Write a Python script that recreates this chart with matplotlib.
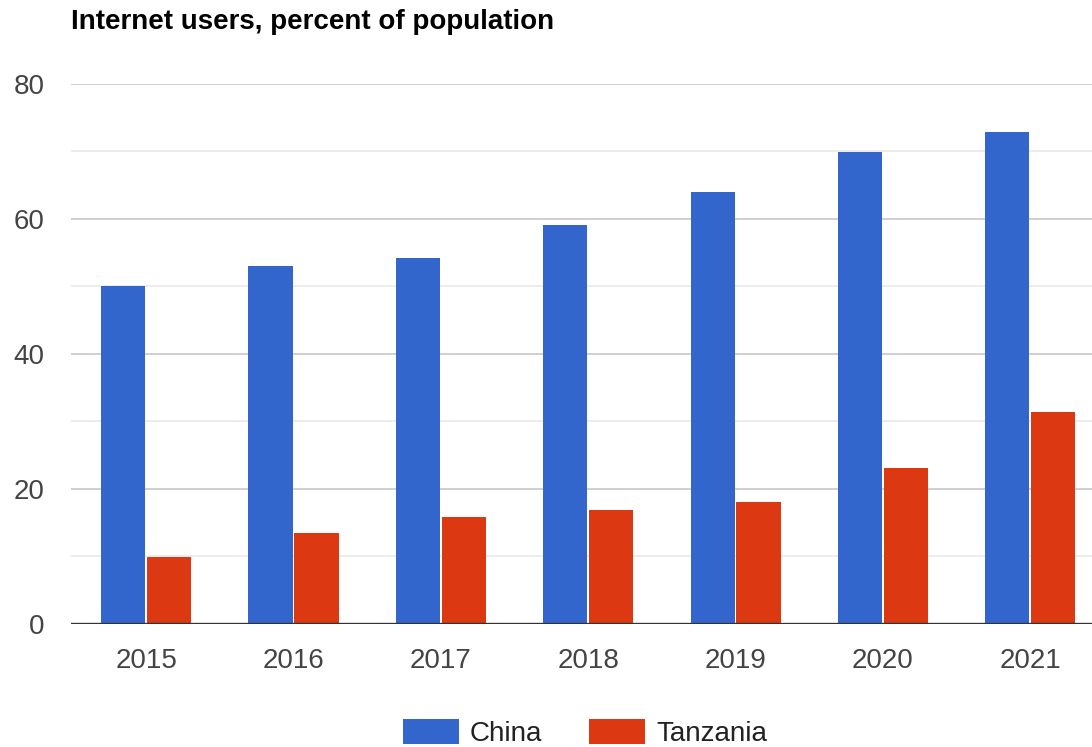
import numpy as np
import matplotlib
matplotlib.use("Agg")
import matplotlib.pyplot as plt
from matplotlib.patches import Patch

# Internet users as share of population
years = ["2015", "2016", "2017", "2018", "2019", "2020", "2021"]
china = [50.1, 53.0, 54.2, 59.1, 63.9, 69.8, 72.8]
tanzania = [9.9, 13.4, 15.8, 16.9, 18.1, 23.1, 31.4]

BLUE = "#3366cc"
RED = "#dc3912"

plt.rcParams["font.family"] = ["Liberation Sans", "DejaVu Sans"]

W, H = 1092, 747
fig = plt.figure(figsize=(W / 100, H / 100), dpi=100)
fig.patch.set_facecolor("white")

# axes run slightly past the right edge of the figure
ax = fig.add_axes([71 / W, 123 / H, (1104 - 71) / W, 540.5 / H])

x = np.arange(len(years))
bw = 0.30
ax.bar(x - 0.156, china, bw, color=BLUE, zorder=3)
ax.bar(x + 0.156, tanzania, bw, color=RED, zorder=3)

ax.set_xlim(-0.51, 6.5)
ax.set_ylim(0, 80)
ax.set_yticks([0, 20, 40, 60, 80])
ax.set_yticks([10, 30, 50, 70], minor=True)
ax.grid(axis="y", which="major", color="#cccccc", linewidth=1.3, zorder=0)
ax.grid(axis="y", which="minor", color="#ebebeb", linewidth=1.3, zorder=0)
ax.axhline(0, color="#333333", linewidth=2.4, zorder=4)

for s in ax.spines.values():
    s.set_visible(False)

ax.set_xticks(x)
ax.set_xticklabels(years)
ax.tick_params(axis="both", which="both", length=0, labelsize=20, labelcolor="#444444")
ax.tick_params(axis="y", pad=19)
ax.tick_params(axis="x", pad=17)

fig.text(71 / W, 1 - 22 / H, "Internet users, percent of population",
         fontsize=20, fontweight="bold", color="#000000", va="center", ha="left")

handles = [Patch(facecolor=BLUE, edgecolor="none", label="China"),
           Patch(facecolor=RED, edgecolor="none", label="Tanzania")]
fig.legend(handles=handles, loc="center", bbox_to_anchor=(585 / W, 1 - 733 / H),
           ncol=2, frameon=False, fontsize=20, handlelength=2.0, handleheight=1.0,
           handletextpad=0.4, columnspacing=1.7, labelcolor="#222222")

fig.savefig("out.png", dpi=100)
